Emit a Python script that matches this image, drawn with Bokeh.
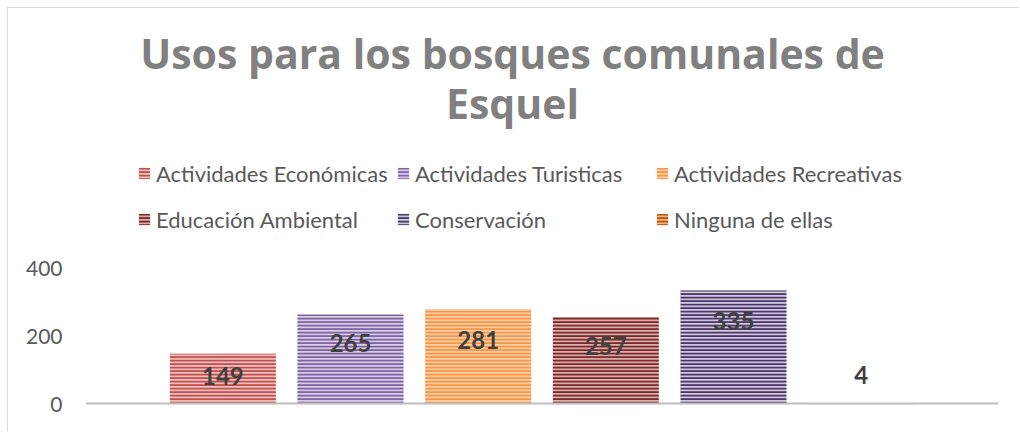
from bokeh.plotting import figure
from bokeh.models import (ColumnDataSource, FactorRange, Range1d, Legend, LegendItem,
                          Label, Span, FixedTicker)
from bokeh.embed import file_html
from bokeh.resources import INLINE
from bokeh.core.properties import value

# ---- data ----
title_line1 = "Usos para los bosques comunales de"
title_line2 = "Esquel"
categories = ["Actividades Económicas", "Actividades Turisticas", "Actividades Recreativas",
              "Educación Ambiental", "Conservación", "Ninguna de ellas"]
counts = [149, 265, 281, 257, 335, 4]
y_ticks = [0, 200, 400]

# ---- styles ----
stripe_colors = ["#C0504D", "#8064A2", "#F79646", "#772C2A", "#4A3966", "#B65708"]
base_colors = ["#EFC0BF", "#D9CCE7", "#FCCFA6", "#DFADAC", "#D3C9E2", "#F2B383"]
label_dy = [22, 29, 31, 29, 30, -28]  # pixel offsets of the value labels

source = ColumnDataSource(dict(cat=categories, count=counts,
                               label=[str(c) for c in counts],
                               stripe=stripe_colors, base=base_colors, dy=label_dy))

# frame spans the whole chart height (titles and legend live inside it);
# the value axis 0..400 occupies the lowest 136 px of the 396 px frame
FRAME_H = 396
AXIS_PX = 136
p = figure(width=1012, height=424,
           x_range=FactorRange(*categories, range_padding=0.576, range_padding_units="absolute"),
           y_range=Range1d(0, y_ticks[-1] * FRAME_H / AXIS_PX),
           output_backend="svg", toolbar_location=None,
           min_border_left=77, min_border_right=22, min_border_top=0, min_border_bottom=28)
p.outline_line_color = None
p.grid.visible = False
p.xaxis.visible = False
p.styles = {"margin-left": "7px", "margin-top": "7px",
            "border-top": "1px solid #D9D9D9", "border-left": "1px solid #D9D9D9"}

r = p.vbar(x="cat", top="count", width=0.83, source=source, fill_color="base",
           line_color=None, hatch_pattern="horizontal_line", hatch_color="stripe",
           hatch_scale=3.5, hatch_weight=2.1)

p.add_layout(Span(location=0, dimension="width", line_color="#BFBFBF", line_width=4))

p.text(x="cat", y="count", text="label", y_offset="dy", source=source,
       text_align="center", text_baseline="middle", text_font=value("Lato"),
       text_font_size="24px", text_font_style="bold", text_color="#404040")

ya = p.yaxis[0]
ya.ticker = FixedTicker(ticks=y_ticks)
ya.axis_line_color = None
ya.major_tick_line_color = None
ya.minor_tick_line_color = None
ya.major_tick_out = 0
ya.major_tick_in = 0
ya.major_label_text_font = "Lato"
ya.major_label_text_font_size = "21px"
ya.major_label_text_color = "#595959"
ya.major_label_standoff = 23

legend = Legend(items=[LegendItem(label=c, renderers=[r], index=i) for i, c in enumerate(categories)],
                orientation="horizontal", ncols=3, location=(52, 162),
                label_text_font="Lato", label_text_font_size="22px", label_text_color="#595959",
                glyph_width=14, glyph_height=14, label_standoff=5, label_width=240,
                label_height=46, spacing=0, padding=0, margin=0,
                border_line_color=None, background_fill_alpha=0)
p.add_layout(legend)

for txt, yy in ((title_line1, 352), (title_line2, 302)):
    p.add_layout(Label(x=427, y=yy, x_units="screen", y_units="screen", text=txt,
                       text_align="center", text_baseline="alphabetic",
                       text_font="Open Sans", text_font_size="41px",
                       text_font_style="bold", text_color="#808080"))

open("out.html", "w").write(file_html(p, INLINE))
